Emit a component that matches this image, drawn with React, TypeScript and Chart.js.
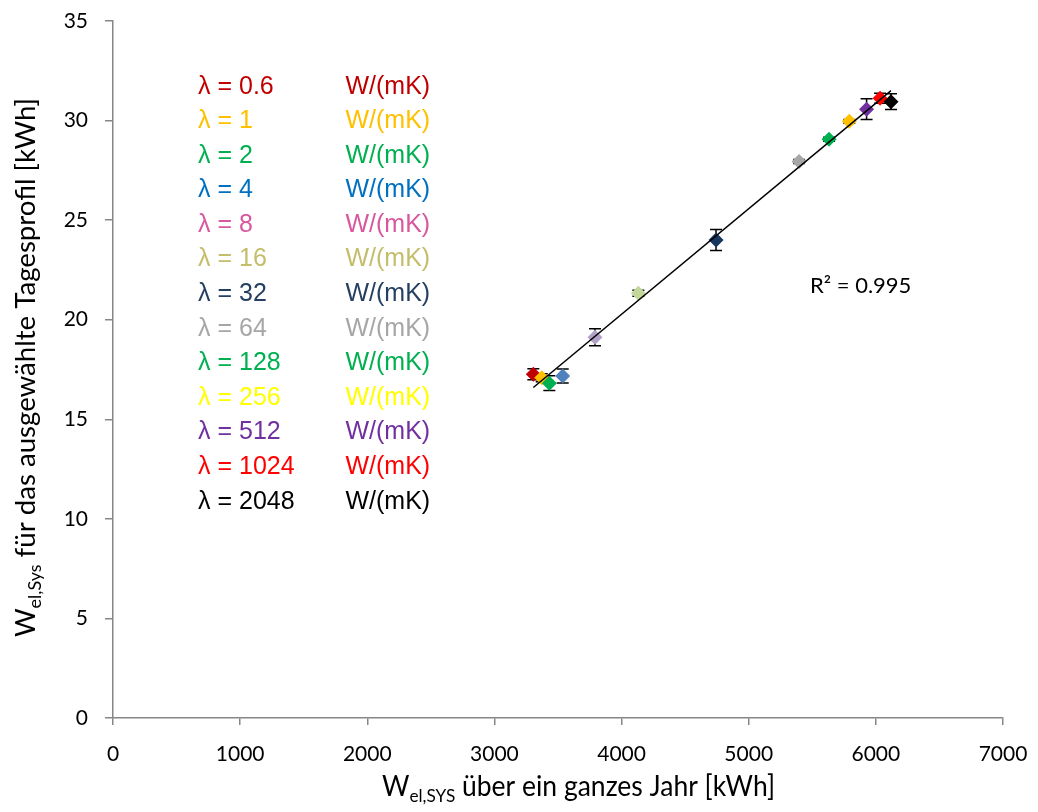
import React, { useEffect, useRef } from 'react';
import { Chart, registerables } from 'chart.js';

Chart.register(...registerables);

// ---------- data ----------
const lambdaLabels = ['0.6', '1', '2', '4', '8', '16', '32', '64', '128', '256', '512', '1024', '2048'];
const annualEnergy = [3306, 3372, 3432, 3537, 3791, 4132, 4743, 5396, 5632, 5791, 5927, 6033, 6119];
const dailyEnergy = [17.26, 17.09, 16.81, 17.17, 19.12, 21.33, 24.0, 27.94, 29.06, 29.96, 30.57, 31.12, 30.95];
const dailyError = [0.28, 0.2, 0.37, 0.35, 0.43, 0.15, 0.53, 0.1, 0.1, 0.1, 0.52, 0.25, 0.4];
const markerColors = ['#C00000', '#FFC000', '#00B050', '#4F81BD', '#B3A2C7', '#C3D69B', '#17375E', '#A6A6A6', '#00B050', '#FFC000', '#7030A0', '#FF0000', '#000000'];
const legendColors = ['#C00000', '#FFC000', '#00B050', '#0070C0', '#D8589F', '#C4BD6A', '#243F60', '#A6A6A6', '#00B050', '#FFFF00', '#7030A0', '#FF0000', '#000000'];
const unitLabel = 'W/(mK)';
const r2Label = 'R² = 0.995';
const xAxisMin = 0;
const xAxisMax = 7000;
const xAxisStep = 1000;
const yAxisMin = 0;
const yAxisMax = 35;
const yAxisStep = 5;

const xTitleParts = [
  { t: 'W' },
  { t: 'el,SYS', sub: true },
  { t: ' über ein ganzes Jahr [kWh]' },
];
const yTitleParts = [
  { t: 'W' },
  { t: 'el,Sys', sub: true },
  { t: ' für das ausgewählte Tagesprofil [kWh]' },
];

// ---------- helpers ----------
function linearFit(xs: number[], ys: number[]) {
  const n = xs.length;
  const mx = xs.reduce((a, b) => a + b, 0) / n;
  const my = ys.reduce((a, b) => a + b, 0) / n;
  let sxy = 0;
  let sxx = 0;
  for (let i = 0; i < n; i++) {
    sxy += (xs[i] - mx) * (ys[i] - my);
    sxx += (xs[i] - mx) * (xs[i] - mx);
  }
  const slope = sxy / sxx;
  return { slope, intercept: my - slope * mx };
}

function drawRich(
  ctx: CanvasRenderingContext2D,
  parts: { t: string; sub?: boolean }[],
  size: number,
  family: string,
  targetWidth: number
) {
  const subSize = size * 0.65;
  const widths = parts.map((p) => {
    ctx.font = `${p.sub ? subSize : size}px ${family}`;
    return ctx.measureText(p.t).width;
  });
  const total = widths.reduce((a, b) => a + b, 0);
  ctx.scale(targetWidth / total, 1);
  let x = 0;
  parts.forEach((p, i) => {
    ctx.font = `${p.sub ? subSize : size}px ${family}`;
    ctx.fillText(p.t, x, p.sub ? size * 0.22 : 0);
    x += widths[i];
  });
}

const TITLE_FONT = "Lato, 'Open Sans', sans-serif";
const LEGEND_FONT = "'Liberation Sans', Arial, sans-serif";

const errorBarPlugin = {
  id: 'errorBars',
  beforeDatasetsDraw(chart: any) {
    const ctx = chart.ctx;
    const yScale = chart.scales.y;
    ctx.save();
    ctx.strokeStyle = '#000';
    ctx.lineWidth = 1.5;
    for (let i = 0; i < annualEnergy.length; i++) {
      const meta = chart.getDatasetMeta(i + 1);
      const pt = meta.data[0];
      if (!pt) continue;
      const x = pt.x;
      const top = yScale.getPixelForValue(dailyEnergy[i] + dailyError[i]);
      const bot = yScale.getPixelForValue(dailyEnergy[i] - dailyError[i]);
      ctx.beginPath();
      ctx.moveTo(x, top);
      ctx.lineTo(x, bot);
      ctx.moveTo(x - 6, top);
      ctx.lineTo(x + 6, top);
      ctx.moveTo(x - 6, bot);
      ctx.lineTo(x + 6, bot);
      ctx.stroke();
    }
    ctx.restore();
  },
};

const annotationPlugin = {
  id: 'annotations',
  afterDraw(chart: any) {
    const ctx = chart.ctx as CanvasRenderingContext2D;
    const xs = chart.scales.x;
    const ys = chart.scales.y;
    ctx.save();
    // legend text block
    ctx.textBaseline = 'middle';
    ctx.textAlign = 'left';
    ctx.font = `25px ${LEGEND_FONT}`;
    for (let i = 0; i < lambdaLabels.length; i++) {
      const y = 86.7 + i * 34.58;
      ctx.fillStyle = legendColors[i];
      ctx.fillText(`λ = ${lambdaLabels[i]}`, 198, y);
      ctx.fillText(unitLabel, 345.5, y);
    }
    // R² label
    ctx.fillStyle = '#000';
    ctx.font = `22px ${TITLE_FONT}`;
    ctx.fillText(r2Label, xs.getPixelForValue(5482), ys.getPixelForValue(21.7));

    // x axis title
    ctx.textBaseline = 'alphabetic';
    ctx.save();
    ctx.translate(382, 796);
    drawRich(ctx, xTitleParts, 28, TITLE_FONT, 393);
    ctx.restore();

    // y axis title
    ctx.save();
    ctx.translate(35, 637);
    ctx.rotate(-Math.PI / 2);
    drawRich(ctx, yTitleParts, 27, TITLE_FONT, 539);
    ctx.restore();
    ctx.restore();
  },
};

export default function App() {
  const ref = useRef<HTMLCanvasElement | null>(null);

  useEffect(() => {
    if (!ref.current) return;
    const fit = linearFit(annualEnergy, dailyEnergy);
    const minX = Math.min(...annualEnergy);
    const maxX = Math.max(...annualEnergy);
    const trend = [
      { x: minX, y: fit.intercept + fit.slope * minX },
      { x: maxX, y: fit.intercept + fit.slope * maxX },
    ];
    const n = annualEnergy.length;
    const datasets: any[] = [
      {
        label: 'Trend',
        data: trend,
        showLine: true,
        borderColor: '#000',
        borderWidth: 1.5,
        pointRadius: 0,
        order: 0,
      },
      ...annualEnergy.map((x, i) => ({
        label: `λ = ${lambdaLabels[i]}`,
        data: [{ x, y: dailyEnergy[i] }],
        pointStyle: 'rectRot',
        pointRadius: 7.5,
        pointBackgroundColor: markerColors[i],
        pointBorderColor: markerColors[i],
        pointBorderWidth: 0,
        order: n + 1 - i,
      })),
    ];

    const axisColor = '#868686';
    const chart = new Chart(ref.current, {
      type: 'scatter',
      data: { datasets },
      plugins: [errorBarPlugin, annotationPlugin],
      options: {
        animation: false,
        responsive: false,
        maintainAspectRatio: false,
        layout: { padding: { left: 0, right: 35, top: 21, bottom: 0 } },
        plugins: {
          legend: { display: false },
          tooltip: { enabled: false },
          title: { display: false },
        },
        scales: {
          x: {
            type: 'linear',
            min: xAxisMin,
            max: xAxisMax,
            afterFit: (s: any) => {
              s.height = 94;
              s.paddingLeft = 0;
              s.paddingRight = 0;
            },
            ticks: {
              stepSize: xAxisStep,
              color: '#000',
              padding: 17,
              font: { family: TITLE_FONT, size: 21 },
              callback: (v: any) => String(v),
            },
            grid: {
              display: true,
              drawOnChartArea: false,
              drawTicks: true,
              tickLength: 7,
              color: axisColor,
              lineWidth: 1.5,
            },
            border: { display: true, color: axisColor, width: 1.5 },
          },
          y: {
            type: 'linear',
            min: yAxisMin,
            max: yAxisMax,
            afterFit: (s: any) => {
              s.width = 113;
              s.paddingTop = 0;
              s.paddingBottom = 0;
            },
            ticks: {
              stepSize: yAxisStep,
              color: '#000',
              padding: 17,
              font: { family: TITLE_FONT, size: 21 },
              callback: (v: any) => String(v),
            },
            grid: {
              display: true,
              drawOnChartArea: false,
              drawTicks: true,
              tickLength: 8,
              color: axisColor,
              lineWidth: 1.5,
            },
            border: { display: true, color: axisColor, width: 1.5 },
          },
        },
      },
    });
    return () => chart.destroy();
  }, []);

  return (
    <div style={{ position: 'fixed', left: 0, top: 0, width: 1038, height: 812, background: '#fff' }}>
      <canvas ref={ref} width={1038} height={812} style={{ display: 'block' }} />
    </div>
  );
}
